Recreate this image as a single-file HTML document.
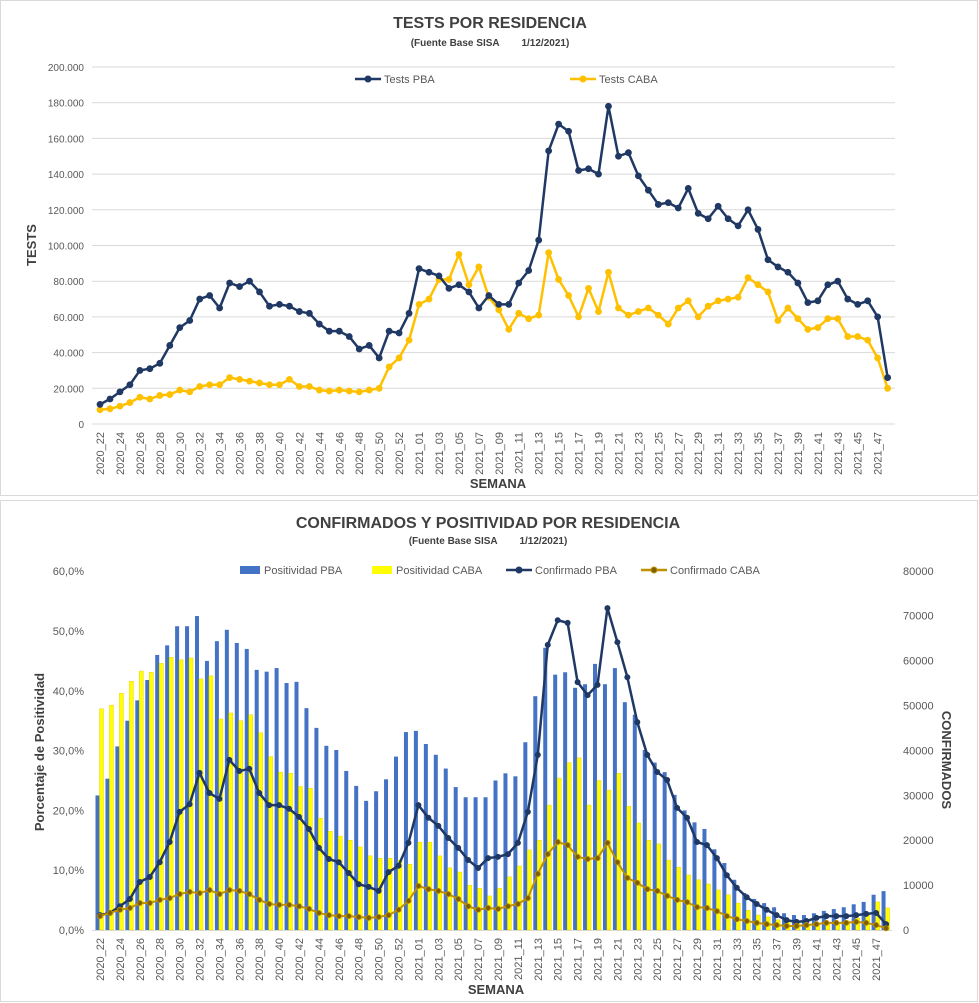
<!DOCTYPE html>
<html><head><meta charset="utf-8"><style>
body{margin:0;background:#fff;font-family:"Liberation Sans",sans-serif}
svg{display:block}
text{white-space:pre}
</style></head><body>
<svg id="c" width="979" height="1003" xmlns="http://www.w3.org/2000/svg"></svg>
<script>
const testsPBA=[11,14,18,22,30,31,34,44,54,58,70,72,65,79,77,80,74,66,67,66,63,62,56,52,52,49,42,44,37,52,51,62,87,85,83,76,78,74,65,72,67,67,79,86,103,153,168,164,142,143,140,178,150,152,139,131,123,124,121,132,118,115,122,115,111,120,109,92,88,85,79,68,69,78,80,70,67,69,60,26];
const testsCABA=[8,8.5,10,12,15,14,16,16.5,19,18,21,22,22,26,25,24,23,22,22,25,21,21,19,18.5,19,18.5,18,19,20,32,37,47,67,70,81,81,95,78,88,71,64,53,62,59,61,96,81,72,60,76,63,85,65,61,63,65,61,56,65,69,60,66,69,70,71,82,78,74,58,65,59,53,54,59,59,49,49,47,37,20];
const posPBA=[22.5,25.3,30.7,35,38.4,41.8,46,47.6,50.8,50.8,52.5,45,48.3,50.2,48,47,43.5,43.2,43.8,41.3,41.5,37.1,33.8,30.8,30.1,26.6,24.1,21.6,23.2,25.2,29,33.1,33.3,31.1,29.3,27,23.9,22.2,22.2,22.2,25,26.2,25.7,31.4,39.1,47.2,42.7,43.1,40.5,41.1,44.5,41.1,43.8,38.1,36,30.1,28,26.4,22.6,20,18,16.9,13.5,11.2,8.4,6.2,5.2,4.5,3.8,2.8,2.5,2.5,2.8,3.2,3.5,3.8,4.3,4.7,5.9,6.5];
const posCABA=[37,37.6,39.6,41.6,43.3,43.1,44.6,45.6,45.2,45.5,42,42.5,35.3,36.3,35,36,33,29,26.4,26.2,24,23.7,18.7,16.5,15.7,15,13.9,12.4,12,12,11.7,11,14.7,14.7,12.4,10.4,9.7,7.5,7,5.7,7,8.9,10.7,13.4,15,20.9,25.4,28,28.8,20.9,25,23.4,26.2,20.7,17.9,15,14.4,11.7,10.5,9.2,8.4,7.7,6.7,5.9,4.5,3.3,2.5,2.2,1.7,1.5,1.2,1,1,1.2,1.2,1.5,2,2.8,4.7,3.7];
const confPBA=[3.3,3.8,5.3,6.9,10.7,11.8,15.1,19.6,26.3,28,35,30.5,29.2,37.9,35.4,35.9,30.5,27.8,27.8,27,25.2,22.5,18.3,15.8,15.1,12.7,10.2,9.6,8.7,12.9,14.3,19.4,27.8,25,23.2,20.5,18.3,15.6,13.8,16,16.3,16.9,19.4,26.3,39,63.5,69,68.4,55.2,52.3,54.6,71.7,64.1,56.3,46.3,39,35.2,33.4,27.2,25,19.6,18.9,16,12.2,9.4,7.3,5.8,4.5,3.3,2.2,1.8,2,2.7,3.1,3.1,3.1,3.3,3.6,3.8,1.3];
const confCABA=[3.1,3.8,4.5,4.9,6,6,6.7,7.1,8,8.5,8.2,8.9,8,8.9,8.7,8,6.7,5.8,5.6,5.6,5.3,4.7,3.8,3.3,3.1,3.1,2.9,2.7,2.9,3.3,4.5,6.5,9.8,9.1,8.7,8,6.9,5.3,4.5,4.9,4.7,5.3,5.8,7.1,12.5,16.9,19.6,18.9,16.3,15.8,16,19.4,15.1,11.6,10.5,9.1,8.7,7.6,6.7,6.2,5.1,4.9,4.2,3.1,2.4,2,1.6,1.3,1.1,0.9,0.9,1.1,1.3,1.6,1.6,1.6,1.8,1.6,1.1,0.4];
const weeks=[];for(let w=22;w<=53;w++)weeks.push('2020_'+w);for(let w=1;w<=48;w++)weeks.push('2021_'+String(w).padStart(2,'0'));
const topTicks=['0','20.000','40.000','60.000','80.000','100.000','120.000','140.000','160.000','180.000','200.000'];
const leftTicks=['0,0%','10,0%','20,0%','30,0%','40,0%','50,0%','60,0%'];
const rightTicks=['0','10000','20000','30000','40000','50000','60000','70000','80000'];

const S=document.getElementById('c'),NS='http://www.w3.org/2000/svg';
function el(t,a,txt,p){const e=document.createElementNS(NS,t);for(const k in a)e.setAttribute(k,a[k]);if(txt!=null)e.textContent=txt;(p||S).appendChild(e);return e;}
function tx(x,y,s,o){return el('text',Object.assign({x:x,y:y,'font-family':'Liberation Sans, sans-serif','font-size':11,fill:'#595959'},o||{}),s);}

let p1=el('rect',{x:0.5,y:0.5,width:977,height:495,fill:'#fff',stroke:'#d9d9d9'});

let p2=el('rect',{x:0.5,y:500.5,width:977,height:501,fill:'#fff',stroke:'#d9d9d9'});


const tx1=i=>100+i*9.97, ty1=v=>424-v*1.785;
for(let k=0;k<topTicks.length;k++){const y=ty1(k*20);
 let g=el('line',{x1:92,x2:895,y1:y,y2:y,stroke:'#d9d9d9'});
 let t=tx(84,y+4,topTicks[k],{'text-anchor':'end','font-size':10});}
let t1=tx(490,28,'TESTS POR RESIDENCIA',{'text-anchor':'middle','font-size':16,'font-weight':'bold',fill:'#404040'});
let s1=tx(490,46,'(Fuente Base SISA        1/12/2021)',{'text-anchor':'middle','font-size':10,'font-weight':'bold',fill:'#404040'});
let a1=tx(36,245,'TESTS',{'text-anchor':'middle','font-size':13,'font-weight':'bold',fill:'#404040',transform:'rotate(-90 36 245)'});
let a2=tx(498,488,'SEMANA',{'text-anchor':'middle','font-size':13,'font-weight':'bold',fill:'#404040'});
function xlabels(fx,y0){for(let i=0;i<weeks.length;i+=2){const x=fx(i);let t=tx(x+4,y0,weeks[i],{'text-anchor':'end','font-size':11,transform:`rotate(-90 ${x+4} ${y0})`});}}
xlabels(tx1,432);
function series(arr,fx,fy,col,mcol,w,r,name){
 let pl=el('polyline',{points:arr.map((v,i)=>fx(i)+','+fy(v)).join(' '),fill:'none',stroke:col,'stroke-width':w,'stroke-linejoin':'round'});
 
 arr.forEach((v,i)=>{let c=el('circle',{cx:fx(i),cy:fy(v),r:r,fill:mcol,stroke:col,'stroke-width':0.8});});}
series(testsCABA,tx1,ty1,'#FFC000','#FFC000',2.5,3,'tests-caba');
series(testsPBA,tx1,ty1,'#1F3864','#1F3864',2.5,3,'tests-pba');
function legLine(x,y,col,mcol,label,name){let g=el('g',{});
 el('line',{x1:x,x2:x+26,y1:y,y2:y,stroke:col,'stroke-width':2.5},null,g);el('circle',{cx:x+13,cy:y,r:3,fill:mcol,stroke:col},null,g);
 el('text',{x:x+29,y:y+4,'font-family':'Liberation Sans, sans-serif','font-size':11,fill:'#595959'},label,g);}
legLine(355,79,'#1F3864','#1F3864','Tests PBA','legend-tests-pba');
legLine(570,79,'#FFC000','#FFC000','Tests CABA','legend-tests-caba');

const bx=i=>100+i*9.95, byL=v=>930-v*5.98, byR=v=>930-v*4.49;
leftTicks.forEach((s,k)=>{let t=tx(84,byL(k*10)+4,s,{'text-anchor':'end'});});
rightTicks.forEach((s,k)=>{let t=tx(903,byR(k*10)+4,s,{});});
let t2=tx(488,528,'CONFIRMADOS Y POSITIVIDAD POR RESIDENCIA',{'text-anchor':'middle','font-size':16,'font-weight':'bold',fill:'#404040'});
let s2=tx(488,544,'(Fuente Base SISA        1/12/2021)',{'text-anchor':'middle','font-size':10,'font-weight':'bold',fill:'#404040'});
let a3=tx(44,752,'Porcentaje de Positividad',{'text-anchor':'middle','font-size':13,'font-weight':'bold',fill:'#404040',transform:'rotate(-90 44 752)'});
let a4=tx(942,760,'CONFIRMADOS',{'text-anchor':'middle','font-size':13,'font-weight':'bold',fill:'#404040',transform:'rotate(90 942 760)'});
let a5=tx(496,994,'SEMANA',{'text-anchor':'middle','font-size':13,'font-weight':'bold',fill:'#404040'});
let ax=el('line',{x1:92,x2:892,y1:930.5,y2:930.5,stroke:'#d9d9d9'});
xlabels(bx,938);
posPBA.forEach((v,i)=>{let r=el('rect',{x:bx(i)-4.5,y:byL(v),width:4,height:930-byL(v),fill:'#4472C4'});});
posCABA.forEach((v,i)=>{let r=el('rect',{x:bx(i)-0.5,y:byL(v),width:4,height:930-byL(v),fill:'#FFFF00',stroke:'#E6C800','stroke-width':0.4});});
series(confPBA,bx,byR,'#1F3864','#1F3864',2.5,2.6,'confirmado-pba');
series(confCABA,bx,byR,'#BF9000','#7F6000',2,2.6,'confirmado-caba');
function legBar(x,y,col,label,name){let g=el('g',{});
 el('rect',{x:x,y:y-4,width:20,height:8,fill:col},null,g);
 el('text',{x:x+24,y:y+4,'font-family':'Liberation Sans, sans-serif','font-size':11,fill:'#595959'},label,g);}
legBar(240,570,'#4472C4','Positividad PBA','legend-positividad-pba');
legBar(372,570,'#FFFF00','Positividad CABA','legend-positividad-caba');
legLine(506,570,'#1F3864','#1F3864','Confirmado PBA','legend-confirmado-pba');
legLine(641,570,'#BF9000','#7F6000','Confirmado CABA','legend-confirmado-caba');
</script>
</body></html>
